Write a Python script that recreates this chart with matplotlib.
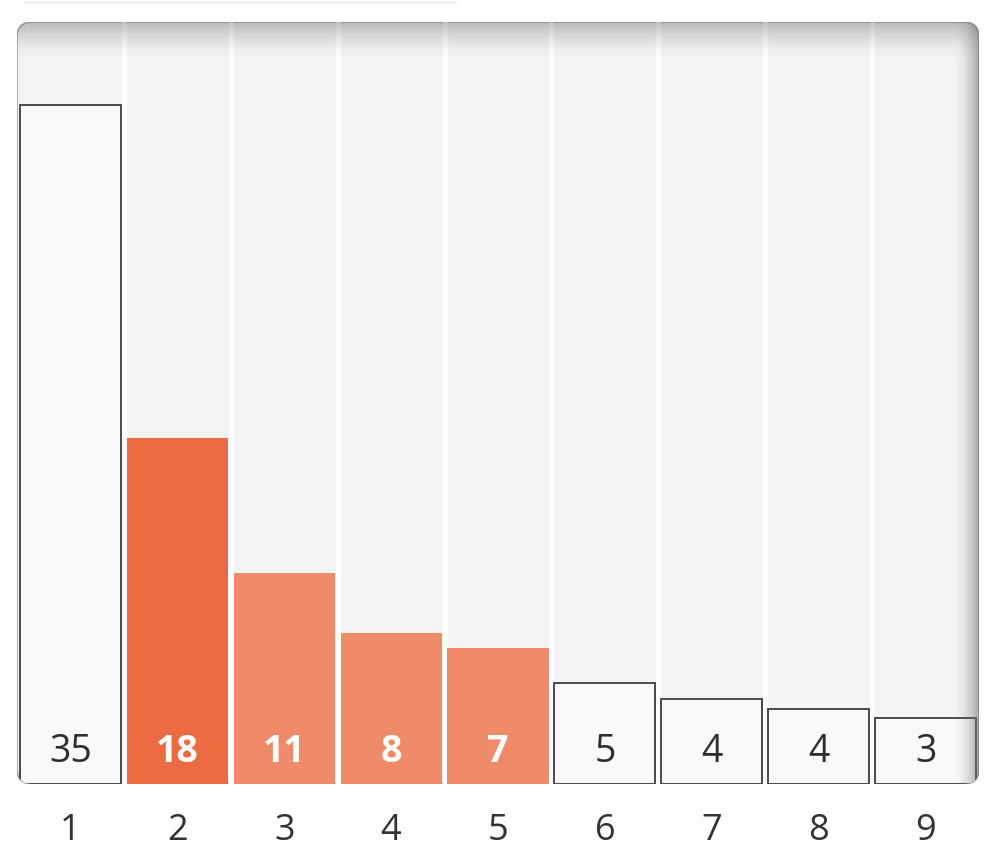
import numpy as np
import matplotlib.pyplot as plt
from matplotlib.patches import FancyBboxPatch
from matplotlib.lines import Line2D

# data
categories = ['1', '2', '3', '4', '5', '6', '7', '8', '9']
heights = [35.1, 17.9, 10.9, 7.8, 7.05, 5.2, 4.4, 3.9, 3.4]
labels = [35, 18, 11, 8, 7, 5, 4, 4, 3]
bar_colors = ['#f9f9f9', '#ec6b43', '#f08b6a', '#f08b6a', '#f08b6a',
              '#f9f9f9', '#f9f9f9', '#f9f9f9', '#f9f9f9']
outlined = [True, False, False, False, False, True, True, True, True]

plt.rcParams['font.family'] = ['Open Sans', 'DejaVu Sans']

W, H = 992, 864
fig = plt.figure(figsize=(W / 100, H / 100), dpi=100)
fig.patch.set_facecolor('white')
ax = fig.add_axes([17 / W, 80 / H, 962 / W, 762 / H])
ax.set_xlim(0.5, len(categories) + 0.5)
ax.set_ylim(0, 39.4)
ax.axis('off')

# faint line left over at the top of the picture
fig.add_artist(Line2D([25 / W, 455 / W], [1 - 1.5 / H, 1 - 1.5 / H],
                      color='#f0f0f0', lw=2))

# rounded panel
panel = FancyBboxPatch((0, 0), 1, 1, boxstyle='round,pad=0,rounding_size=0.016',
                       transform=ax.transAxes, facecolor='#f4f4f4',
                       edgecolor='#a0a0a0', lw=1.2, zorder=0,
                       mutation_aspect=962 / 762)
ax.add_patch(panel)

x = np.arange(1, len(categories) + 1)
for sep in x[:-1] + 0.5:
    l = ax.axvline(sep, color='white', lw=3.8, zorder=1)
    l.set_clip_path(panel)

bars = ax.bar(x, heights, width=0.945, color=bar_colors, zorder=2)
for b, o in zip(bars, outlined):
    if o:
        b.set_edgecolor('#4a4a4a')
        b.set_linewidth(1.4)
    b.set_clip_path(panel)

# inner shadow top and right
img = np.zeros((64, 1, 4))
img[..., :3] = 0.5
img[..., 3] = (np.linspace(1, 0, 64) ** 1.6 * 0.5).reshape(-1, 1)
im = ax.imshow(img, extent=(0, 1, 1 - 38 / 762, 1), transform=ax.transAxes,
               aspect='auto', zorder=3, interpolation='bilinear')
im.set_clip_path(panel)
img2 = np.zeros((1, 64, 4))
img2[..., :3] = 0.45
img2[..., 3] = np.linspace(0, 1, 64) ** 1.8 * 0.6
im2 = ax.imshow(img2, extent=(1 - 26 / 962, 1, 0, 1), transform=ax.transAxes,
                aspect='auto', zorder=3, interpolation='bilinear')
im2.set_clip_path(panel)
ax.set_xlim(0.5, len(categories) + 0.5)
ax.set_ylim(0, 39.4)

# value labels inside bars
for xi, lab, o in zip(x, labels, outlined):
    ax.text(xi, 0.65, str(lab), ha='center', va='bottom', fontsize=27,
            color='#2e2e2e' if o else 'white',
            fontweight='normal' if o else 'bold', zorder=4)

# category labels below
for xi, c in zip(x, categories):
    ax.text(xi, -47 / 762, c, transform=ax.get_xaxis_transform(),
            ha='center', va='center', fontsize=26, color='#333333')

fig.savefig('out.png', dpi=100, facecolor='white')
